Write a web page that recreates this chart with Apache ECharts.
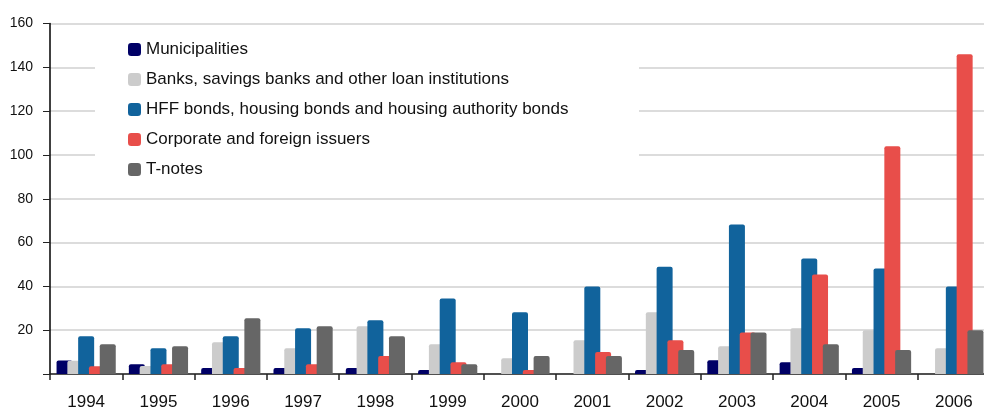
<!DOCTYPE html>
<html>
<head>
<meta charset="utf-8">
<script src="https://cdn.jsdelivr.net/npm/echarts@6/dist/echarts.min.js"></script>
<style>
html,body{margin:0;padding:0;background:#fff;}
#chart{width:984px;height:407px;}
</style>
</head>
<body>
<div id="chart"></div>
<script>
var years = ['1994','1995','1996','1997','1998','1999','2000','2001','2002','2003','2004','2005','2006'];
var seriesNames = ['Municipalities','Banks, savings banks and other loan institutions','HFF bonds, housing bonds and housing authority bonds','Corporate and foreign issuers','T-notes'];
var municipalities = [6.2, 4.5, 2.7, 2.7, 2.7, 1.8, 0, 0, 1.8, 6.3, 5.4, 2.7, 0];
var banks = [6.0, 3.6, 14.5, 11.8, 21.8, 13.6, 7.2, 15.4, 28.2, 12.7, 20.9, 20.0, 11.8];
var hff = [17.2, 11.8, 17.2, 20.9, 24.5, 34.5, 28.2, 40.0, 49.0, 68.2, 52.7, 48.2, 40.0];
var corporate = [3.5, 4.5, 2.7, 4.5, 8.2, 5.4, 1.8, 10.0, 15.4, 19.0, 45.4, 104.0, 146.0];
var tnotes = [13.6, 12.7, 25.4, 21.8, 17.2, 4.5, 8.2, 8.2, 10.9, 19.0, 13.6, 10.9, 20.0];
var yTicks = {min: 0, max: 160, interval: 20};

var colors = ['#000066', '#cccccc', '#11639c', '#e84e4a', '#666666'];
var dataSets = [municipalities, banks, hff, corporate, tnotes];

var chart = echarts.init(document.getElementById('chart'), null, {renderer: 'canvas'});
var series = seriesNames.map(function(n, i){
  return {
    name: n,
    type: 'bar',
    data: dataSets[i],
    barWidth: 16,
    barGap: '-32.5%',
    itemStyle: {color: colors[i], borderRadius: [2, 2, 0, 0]},
    emphasis: {disabled: true}
  };
});

chart.setOption({
  animation: false,
  color: colors,
  textStyle: {fontFamily: 'Liberation Sans, Arial, sans-serif'},
  grid: {left: 50, width: 940, top: 23.5, bottom: 33, containLabel: false, outerBoundsMode: 'none'},
  graphic: [{
    type: 'rect',
    z: 1,
    silent: true,
    shape: {x: 95, y: 32, width: 544, height: 152},
    style: {fill: '#ffffff'}
  }],
  legend: {
    orient: 'vertical',
    left: 128,
    top: 41,
    padding: 0,
    z: 5,
    itemWidth: 13,
    itemHeight: 13,
    itemGap: 13,
    icon: 'roundRect',
    itemStyle: {borderWidth: 0},
    textStyle: {fontSize: 17, color: '#111', lineHeight: 16},
    data: seriesNames
  },
  xAxis: {
    type: 'category',
    data: years,
    boundaryGap: true,
    axisLine: {lineStyle: {color: '#222', width: 1.5}},
    axisTick: {show: true, length: 6, lineStyle: {color: '#222', width: 1.5}},
    axisLabel: {fontSize: 17, color: '#111', margin: 20},
    splitLine: {show: false}
  },
  yAxis: {
    type: 'value',
    min: yTicks.min,
    max: yTicks.max,
    interval: yTicks.interval,
    axisLine: {show: true, lineStyle: {color: '#000', width: 1.5}},
    axisTick: {show: true, length: 7, lineStyle: {color: '#222'}},
    axisLabel: {fontSize: 14, color: '#111', margin: 17, formatter: function(v){ return v === 0 ? '' : v; }},
    splitLine: {show: true, lineStyle: {color: '#dcdcdc', width: 2}}
  },
  series: series
});
</script>
</body>
</html>
